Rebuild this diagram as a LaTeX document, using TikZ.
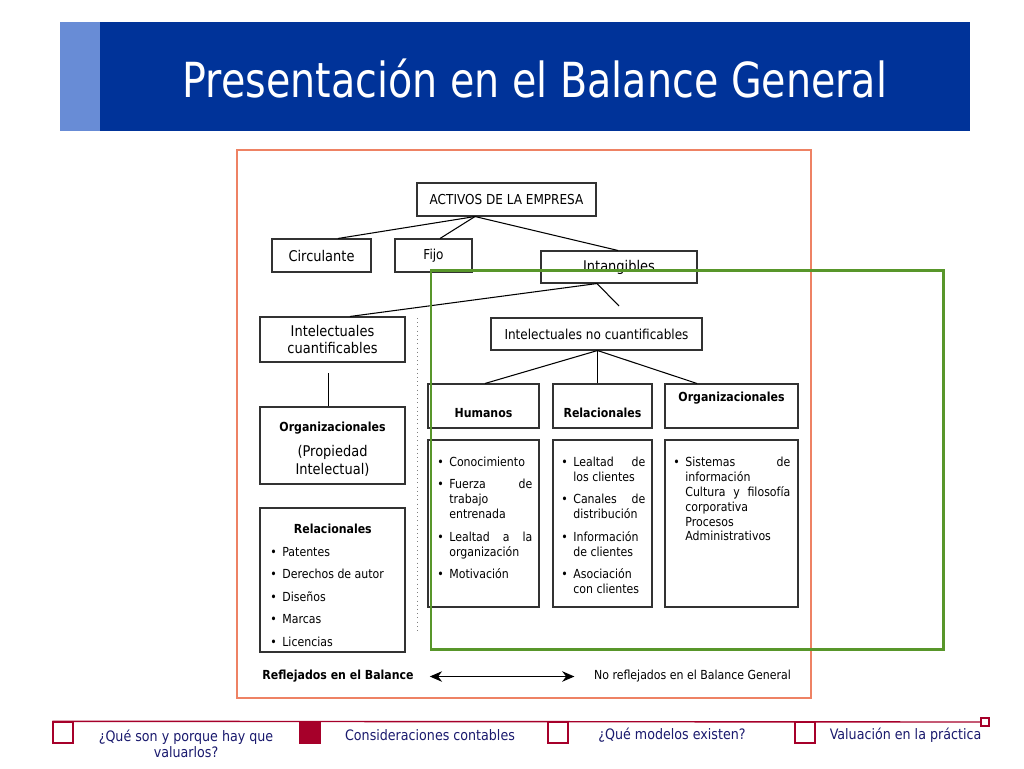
\documentclass[tikz,border=0pt]{standalone}
\usepackage{fontspec}
\setmainfont{DejaVu Sans}[FakeStretch=0.88]
\newfontfamily\titlefont{DejaVu Sans}[FakeStretch=0.82]
\usetikzlibrary{arrows.meta}

\definecolor{slideblue}{RGB}{0,51,153}
\definecolor{stripblue}{RGB}{104,140,214}
\definecolor{framered}{RGB}{238,130,100}
\definecolor{markgreen}{RGB}{88,150,42}
\definecolor{navred}{RGB}{166,0,42}
\definecolor{navtext}{RGB}{26,26,110}
\definecolor{boxline}{RGB}{50,50,50}

\newcommand\fsmall{\fontsize{7.1}{8.5}\selectfont}
\newcommand\fmid{\fontsize{7.8}{9}\selectfont}
\newcommand\flarge{\fontsize{8.4}{10.2}\selectfont}
\newcommand\bitem[1]{\par\hangindent=0.24cm\hangafter=1\noindent
  \makebox[0.24cm][l]{\textbullet}#1\par\vspace{4.3pt}}

\begin{document}
\begin{tikzpicture}[x=0.02cm, y=-0.02cm,
  box/.style={draw=boxline, line width=0.6pt, inner sep=0pt, align=center},
  px/.style 2 args={minimum width=#1*0.02cm, minimum height=#2*0.02cm},
  hdr/.style={font=\fsmall\bfseries, inner sep=0pt},
  lst/.style={font={\fsmall\hyphenpenalty=10000 \tolerance=10000 },
    inner sep=0pt, align=justify, anchor=north west},
  link/.style={line width=0.6pt},
  tab/.style={draw=navred, line width=0.8pt, inner sep=0pt, px={20}{21}},
  nav/.style={text=navtext, font=\fontsize{8.2}{9.2}\selectfont, inner sep=0pt}]
  \useasboundingbox (0,0) rectangle (1024,768);
  \fill[white] (0,0) rectangle (1024,768);
  % title bar
  \fill[stripblue] (60,22) rectangle (100,131);
  \fill[slideblue] (100,22) rectangle (970,131);
  \node[text=white, font=\titlefont\fontsize{27.5}{30}\selectfont, anchor=base]
    (title) at (535,97) {Presentación en el Balance General};
  % frame
  \draw[framered, line width=0.8pt] (237,150) rectangle (811,698);
  % tree
  \node[box, px={179}{33}, font=\fmid] (activos) at (506.5,199.5) {ACTIVOS DE LA EMPRESA};
  \node[box, px={99}{33}, font=\flarge] (circ) at (321.5,255.5) {Circulante};
  \node[box, px={77}{33}, font=\fmid] (fijo) at (433.5,255.5) {Fijo};
  \node[box, px={156}{32}, font=\flarge] (intang) at (619,267) {Intangibles};
  \node[box, px={145}{45}, font=\flarge] (intc) at (332.5,339.5) {Intelectuales\\cuantificables};
  \node[box, px={211}{32}, font=\fmid] (intnc) at (596.5,334) {Intelectuales no cuantificables};
  \coordinate (j1) at (activos.south -| 475,0);
  \coordinate (j2) at (intang.south -| 597,0);
  \coordinate (j3) at (intnc.south -| 597.5,0);
  \coordinate (stub) at (619,306);
  \coordinate (stub2) at (328.5,373);
  \draw[link] (j1) -- (circ.north -| 338,0);
  \draw[link] (j1) -- (fijo.north -| 440,0);
  \draw[link] (j1) -- (intang.north -| 618,0);
  \draw[link] (j2) -- (intc.north -| 350,0);
  \draw[link] (j2) -- (stub);
  % left column
  \node[box, px={145}{77}] (orgL) at (332.5,445.5) {};
  \node[font=\flarge, align=center, inner sep=0pt] (orgLt) at (332.5,449)
    {{\fsmall\bfseries Organizacionales}\\[4pt](Propiedad\\Intelectual)};
  \draw[link] (stub2) -- (orgL.north -| stub2);
  \node[box, px={145}{144}] (relL) at (332.5,580) {};
  \node[lst, text width=2.5cm] (relLl) at (270,524)
    {{\centering\bfseries Relacionales\par}\vspace{4.3pt}%
     \bitem{Patentes}\bitem{Derechos de autor}\bitem{Diseños}\bitem{Marcas}\bitem{Licencias}};
  % right column
  \node[box, px={111}{44}] (hum) at (483.5,406) {};
  \node[box, px={99}{44}] (rel) at (602.5,406) {};
  \node[box, px={133}{44}] (org) at (731.5,406) {};
  \node[hdr] (humT) at (483.5,413) {Humanos};
  \node[hdr] (relT) at (602.5,413) {Relacionales};
  \node[hdr] (orgT) at (731.5,398) {Organizacionales};
  \draw[link] (j3) -- (hum.north -| 485,0);
  \draw[link] (j3) -- (rel.north -| j3);
  \draw[link] (j3) -- (org.north -| 697,0);
  \node[box, px={111}{167}] (humD) at (483.5,523.5) {};
  \node[box, px={99}{167}] (relD) at (602.5,523.5) {};
  \node[box, px={133}{167}] (orgD) at (731.5,523.5) {};
  \node[lst, text width=1.9cm] (humDl) at (437,451)
    {\bitem{Conocimiento}\bitem{Fuerza de trabajo entrenada}%
     \bitem{Lealtad a la organización}\bitem{Motivación}};
  \node[lst, text width=1.68cm] (relDl) at (561,451)
    {\bitem{Lealtad de los clientes}\bitem{Canales de distribución}%
     \bitem{Información de clientes}\bitem{Asociación con clientes}};
  \node[lst, text width=2.34cm] (orgDl) at (673,451)
    {\bitem{Sistemas de información\newline Cultura y filosofía corporativa\newline
     Procesos\newline Administrativos}};
  % split
  \draw[gray, dotted] (417.5,318) -- (417.5,632);
  \draw[markgreen, line width=1.7pt] (431,270) rectangle (943,649);
  \node[font=\fsmall\bfseries, inner sep=0pt] (refl) at (338,676.5) {Reflejados en el Balance};
  \node[font=\fsmall, inner sep=0pt] (norefl) at (692.5,676.5) {No reflejados en el Balance General};
  \draw[{Stealth[length=7pt,width=6pt]}-{Stealth[length=7pt,width=6pt]}, link,
    shorten <=9pt, shorten >=11pt] (refl) -- (norefl);
  % footer
  \node[tab] (tab1) at (63,732.5) {};
  \node[tab, fill=navred] (tab2) at (310,732.5) {};
  \node[tab] (tab3) at (558,732.5) {};
  \node[tab] (tab4) at (805,732.5) {};
  \node[draw=navred, line width=0.6pt, inner sep=0pt, px={8}{8}] (endsq) at (985,722) {};
  \draw[navred, line width=0.8pt] (tab1.north west) -- (endsq.west);
  \node[nav, align=center] (nav1) at (186,744) {¿Qué son y porque hay que\\valuarlos?};
  \node[nav] (nav2) at (430,735) {Consideraciones contables};
  \node[nav] (nav3) at (672,735) {¿Qué modelos existen?};
  \node[nav] (nav4) at (905.5,735) {Valuación en la práctica};
\end{tikzpicture}
\end{document}
